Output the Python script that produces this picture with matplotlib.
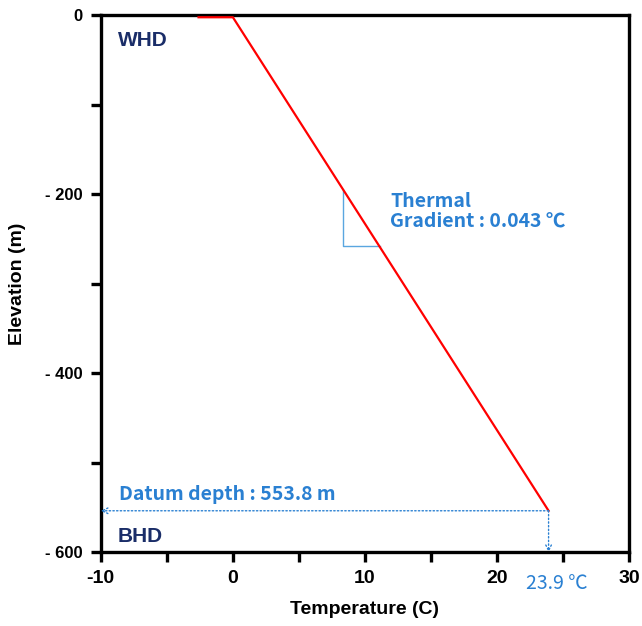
import matplotlib
matplotlib.use("Agg")
import matplotlib.pyplot as plt

plt.rcParams["axes.unicode_minus"] = False

# ── data ──────────────────────────────────────────────────────────────────────
temp_profile = [-2.6, 0.0, 23.9]          # temperature (C)
elev_profile = [-2.5, -2.5, -553.8]       # elevation (m)
datum_depth = -553.8
bottom_temp = 23.9
tri_x = [8.3, 8.3, 11.1]                  # gradient triangle
tri_y = [-195.0, -258.0, -258.0]

x_ticks = [-10, 0, 10, 20, 30]
x_minor = [-5, 5, 15, 25]
y_ticks = [0, -200, -400, -600]
y_tick_labels = ["0", "- 200", "- 400", "- 600"]
y_minor = [-100, -300, -500]

BLUE = "#2a80d2"
NAVY = "#1a2d68"
LABEL_FONT = ["Liberation Sans", "DejaVu Sans"]
NOTE_FONT = ["Noto Sans CJK KR", "DejaVu Sans"]

fig = plt.figure(figsize=(6.42, 6.26), dpi=100, facecolor="white")
ax = fig.add_axes([0.157, 0.118, 0.823, 0.858])

ax.plot(temp_profile, elev_profile, color="red", linewidth=1.6, zorder=3)
ax.plot(tri_x, tri_y, color="#5aa6e0", linewidth=1.0, zorder=2)

# datum depth arrows
ax.annotate("", xy=(-10, datum_depth), xytext=(bottom_temp, datum_depth),
            arrowprops=dict(arrowstyle="->", color=BLUE, linestyle=":",
                            linewidth=1.0, shrinkA=0, shrinkB=0))
ax.annotate("", xy=(bottom_temp, -600), xytext=(bottom_temp, datum_depth),
            arrowprops=dict(arrowstyle="->", color=BLUE, linestyle=":",
                            linewidth=1.0, shrinkA=0, shrinkB=0))

ax.text(-8.7, -28, "WHD", color=NAVY, fontsize=15, fontweight="bold",
        family=LABEL_FONT, va="center")
ax.text(-8.7, -583, "BHD", color=NAVY, fontsize=15, fontweight="bold",
        family=LABEL_FONT, va="center")
ax.text(-8.6, -536, "Datum depth : 553.8 m", color=BLUE, fontsize=14,
        family=NOTE_FONT, fontweight="bold", va="center")
ax.text(11.9, -219, "Thermal\nGradient : 0.043 ℃", color=BLUE, fontsize=14,
        family=NOTE_FONT, fontweight="bold", va="center", linespacing=1.05)

# ── axes ──────────────────────────────────────────────────────────────────────
ax.set_xlim(-10, 30)
ax.set_ylim(-600, 0)
ax.set_xticks(x_ticks)
ax.set_xticks(x_minor, minor=True)
ax.set_yticks(y_ticks)
ax.set_yticklabels(y_tick_labels)
ax.set_yticks(y_minor, minor=True)

for spine in ax.spines.values():
    spine.set_linewidth(2.4)
ax.tick_params(which="both", direction="out", length=7, width=2.4)
ax.tick_params(axis="x", which="major", labelsize=14, pad=6)
ax.tick_params(axis="y", which="major", labelsize=12, pad=6)
for lbl in ax.get_xticklabels() + ax.get_yticklabels():
    lbl.set_fontweight("bold")
    lbl.set_family(LABEL_FONT)

ax.text(24.5, -0.058, "23.9 ℃", transform=ax.get_xaxis_transform(),
        color=BLUE, fontsize=14, family=NOTE_FONT, ha="center", va="center")

ax.set_xlabel("Temperature (C)", fontsize=14, fontweight="bold",
              family=LABEL_FONT, labelpad=10)
ax.set_ylabel("Elevation (m)", fontsize=14, fontweight="bold",
              family=LABEL_FONT, labelpad=14)

fig.savefig("out.png", dpi=100, facecolor="white")
